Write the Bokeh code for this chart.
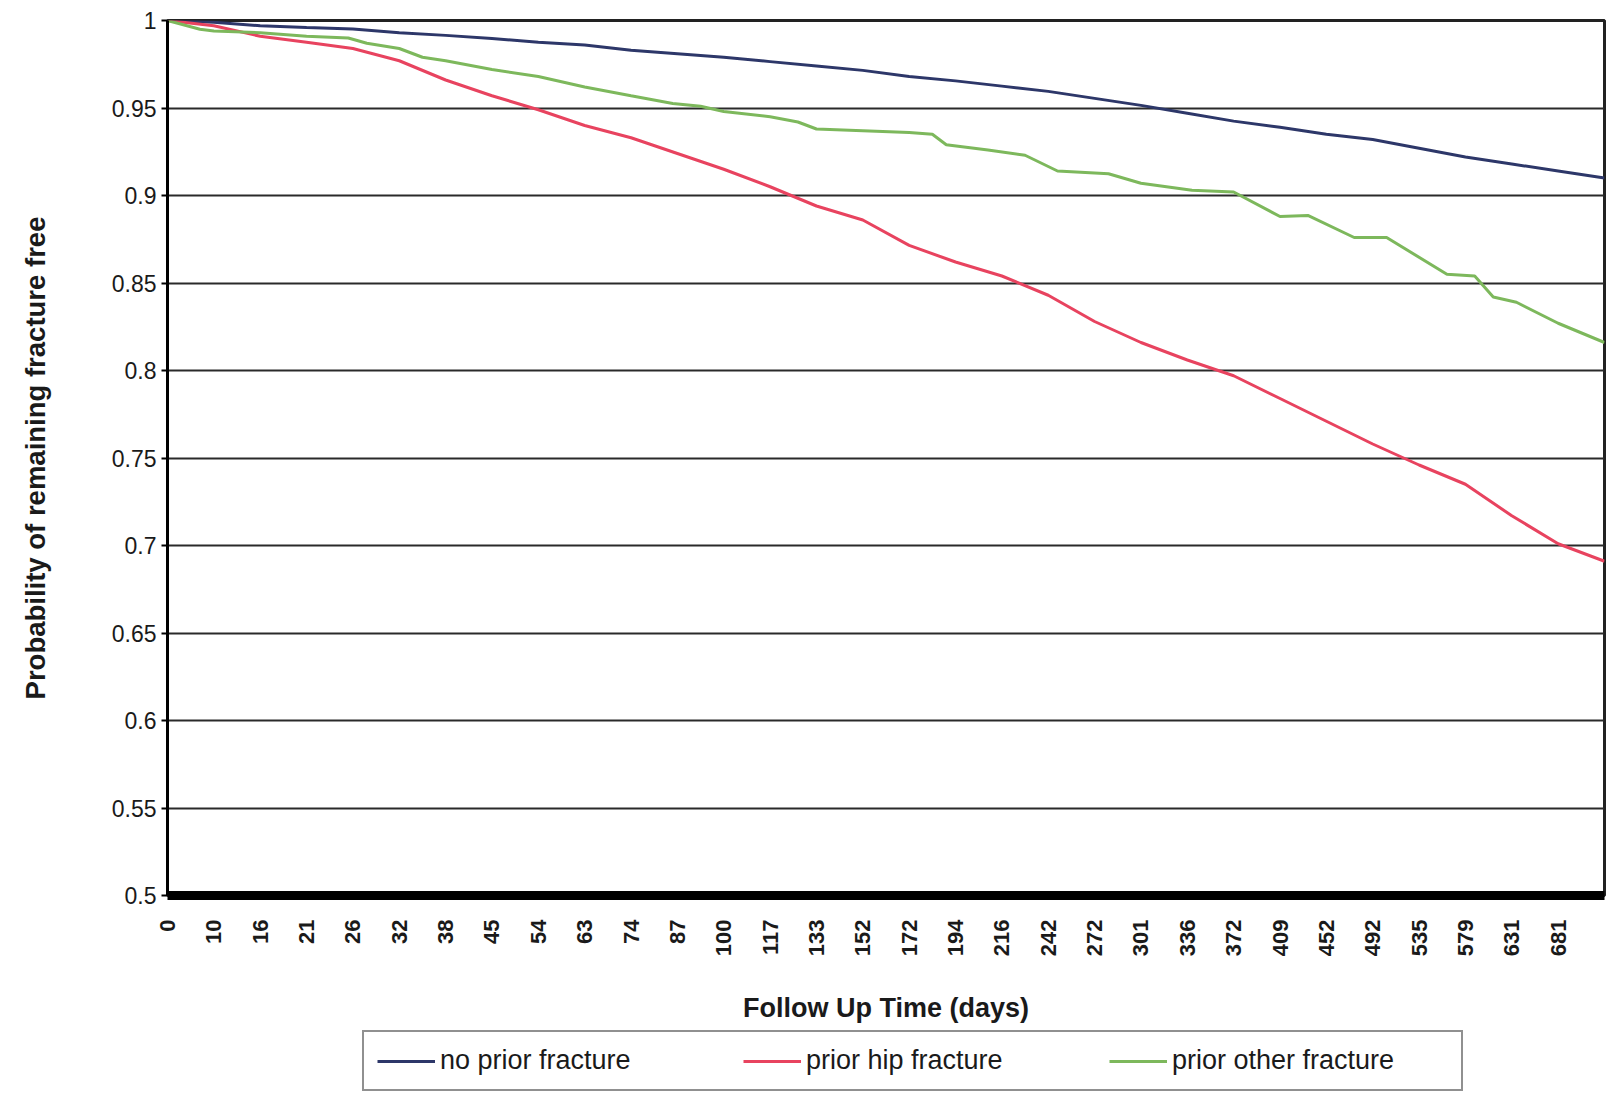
import math

from bokeh.embed import file_html
from bokeh.layouts import column
from bokeh.models import FixedTicker, Legend, LegendItem, Range1d
from bokeh.plotting import figure
from bokeh.resources import INLINE

# Follow-up time (days) printed under each labelled slot of the category axis
day_labels = ["0", "10", "16", "21", "26", "32", "38", "45", "54", "63", "74",
              "87", "100", "117", "133", "152", "172", "194", "216", "242",
              "272", "301", "336", "372", "409", "452", "492", "535", "579",
              "631", "681"]

y_ticks = [0.5, 0.55, 0.6, 0.65, 0.7, 0.75, 0.8, 0.85, 0.9, 0.95, 1.0]
y_tick_labels = ["0.5", "0.55", "0.6", "0.65", "0.7", "0.75", "0.8", "0.85",
                 "0.9", "0.95", "1"]

# Survival curves; x is the slot position along the category axis
no_prior_x = [0, 1, 2, 3, 4, 5, 6, 7, 8, 9, 10, 11, 12, 13, 14, 15, 16, 17,
              18, 19, 20, 21, 22, 23, 24, 25, 26, 27, 28, 29, 30, 31]
no_prior_y = [1.000, 0.999, 0.997, 0.996, 0.9952, 0.993, 0.9915, 0.9897,
              0.9876, 0.986, 0.983, 0.981, 0.979, 0.9765, 0.974, 0.9715,
              0.968, 0.9655, 0.9625, 0.9595, 0.9555, 0.9515, 0.947, 0.9425,
              0.939, 0.935, 0.932, 0.927, 0.922, 0.918, 0.914, 0.910]

hip_x = [0, 1, 2, 3, 4, 5, 6, 7, 8, 9, 10, 11, 12, 13, 14, 15, 16, 17, 18,
         19, 20, 21, 22, 23, 24, 25, 26, 27, 28, 29, 30, 31]
hip_y = [1.000, 0.997, 0.991, 0.9876, 0.984, 0.977, 0.966, 0.957, 0.949,
         0.940, 0.933, 0.924, 0.915, 0.905, 0.894, 0.886, 0.8715, 0.862,
         0.854, 0.843, 0.828, 0.816, 0.806, 0.797, 0.784, 0.771, 0.758,
         0.746, 0.735, 0.717, 0.701, 0.691]

other_x = [0, 0.7, 1, 2, 3, 3.9, 4.3, 5, 5.5, 6, 7, 8, 8.5, 9, 10, 10.9,
           11.5, 12, 13, 13.6, 14, 15, 16, 16.5, 16.8, 17.7, 18.5, 19.2,
           20.3, 21.0, 22.1, 23.0, 24, 24.6, 25.6, 26.3, 27.6, 28.2, 28.6,
           29.1, 30, 31]
other_y = [1.000, 0.995, 0.994, 0.993, 0.991, 0.990, 0.987, 0.984, 0.979,
           0.977, 0.972, 0.968, 0.965, 0.962, 0.957, 0.9526, 0.951, 0.948,
           0.945, 0.942, 0.938, 0.937, 0.936, 0.935, 0.929, 0.926, 0.923,
           0.914, 0.9124, 0.907, 0.903, 0.902, 0.888, 0.8886, 0.876, 0.876,
           0.855, 0.854, 0.842, 0.839, 0.827, 0.816]

series_names = ["no prior fracture", "prior hip fracture", "prior other fracture"]
series_colors = ["#2D3769", "#E8435F", "#7DB85C"]
series_xy = [(no_prior_x, no_prior_y), (hip_x, hip_y), (other_x, other_y)]

FONT = "Liberation Sans"
INK = "#1a1a1a"

p = figure(width=1606, height=1027,
           output_backend="svg", toolbar_location=None,
           x_range=Range1d(0, 31), y_range=Range1d(0.5, 1.0),
           min_border_left=167, min_border_right=2, min_border_top=20,
           min_border_bottom=132, background_fill_color="white",
           border_fill_color="white")

p.outline_line_color = "#222222"
p.outline_line_width = 3

# x axis: category slots with day labels, drawn as a heavy base line
p.xaxis.ticker = FixedTicker(ticks=list(range(len(day_labels))))
p.xaxis.major_label_overrides = {i: lab for i, lab in enumerate(day_labels)}
p.xaxis.major_label_orientation = math.pi / 2
p.xaxis.major_label_text_font = FONT
p.xaxis.major_label_text_font_style = "bold"
p.xaxis.major_label_text_font_size = "22px"
p.xaxis.major_label_text_color = INK
p.xaxis.major_label_standoff = 18
p.xaxis.major_tick_line_color = None
p.xaxis.minor_tick_line_color = None
p.xaxis.axis_line_color = "black"
p.xaxis.axis_line_width = 9
p.xaxis.axis_label = "Follow Up Time (days)"
p.xaxis.axis_label_text_font = FONT
p.xaxis.axis_label_text_font_style = "bold"
p.xaxis.axis_label_text_font_size = "27px"
p.xaxis.axis_label_text_color = INK
p.xaxis.axis_label_standoff = 34

# y axis
p.yaxis.ticker = FixedTicker(ticks=y_ticks)
p.yaxis.major_label_overrides = dict(zip(y_ticks, y_tick_labels))
p.yaxis.major_label_text_font = FONT
p.yaxis.major_label_text_font_size = "23px"
p.yaxis.major_label_text_color = INK
p.yaxis.major_label_standoff = 5
p.yaxis.major_tick_out = 6
p.yaxis.major_tick_in = 0
p.yaxis.major_tick_line_color = "black"
p.yaxis.major_tick_line_width = 2
p.yaxis.minor_tick_line_color = None
p.yaxis.axis_line_color = "black"
p.yaxis.axis_line_width = 3
p.yaxis.axis_label = "Probability of remaining fracture free"
p.yaxis.axis_label_text_font = FONT
p.yaxis.axis_label_text_font_style = "bold"
p.yaxis.axis_label_text_font_size = "27.5px"
p.yaxis.axis_label_text_color = INK
p.yaxis.axis_label_standoff = 58

p.xgrid.grid_line_color = None
p.ygrid.grid_line_color = "#2a2a2a"
p.ygrid.grid_line_width = 2

for (xs, ys), color in zip(series_xy, series_colors):
    p.line(xs, ys, line_color=color, line_width=3)

# Key strip underneath the chart, holding the boxed horizontal legend.
# Its y range sits above the survival values, so the key's own copies of
# the curves stay out of view and only serve the legend swatches.
key = figure(width=1606, height=66, output_backend="svg", toolbar_location=None,
             x_range=Range1d(0, 31), y_range=Range1d(2, 3),
             x_axis_type=None, y_axis_type=None, min_border=0,
             outline_line_color=None, background_fill_color="white",
             border_fill_color="white")
key_items = []
for name, color, (xs, ys) in zip(series_names, series_colors, series_xy):
    swatch = key.line(xs, ys, line_color=color, line_width=3)
    key_items.append(LegendItem(label=name, renderers=[swatch]))

legend = Legend(
    items=key_items,
    orientation="horizontal",
    location=(195, 2),
    padding=13, spacing=27, margin=0,
    glyph_width=58, glyph_height=30, label_width=276, label_height=30,
    label_standoff=5,
    label_text_font=FONT, label_text_font_size="27px", label_text_color=INK,
    border_line_color="#222222", border_line_width=2,
    background_fill_color="white", background_fill_alpha=1.0,
)
key.add_layout(legend)

page = column(p, key, spacing=0)
open("out.html", "w").write(file_html(page, INLINE))
